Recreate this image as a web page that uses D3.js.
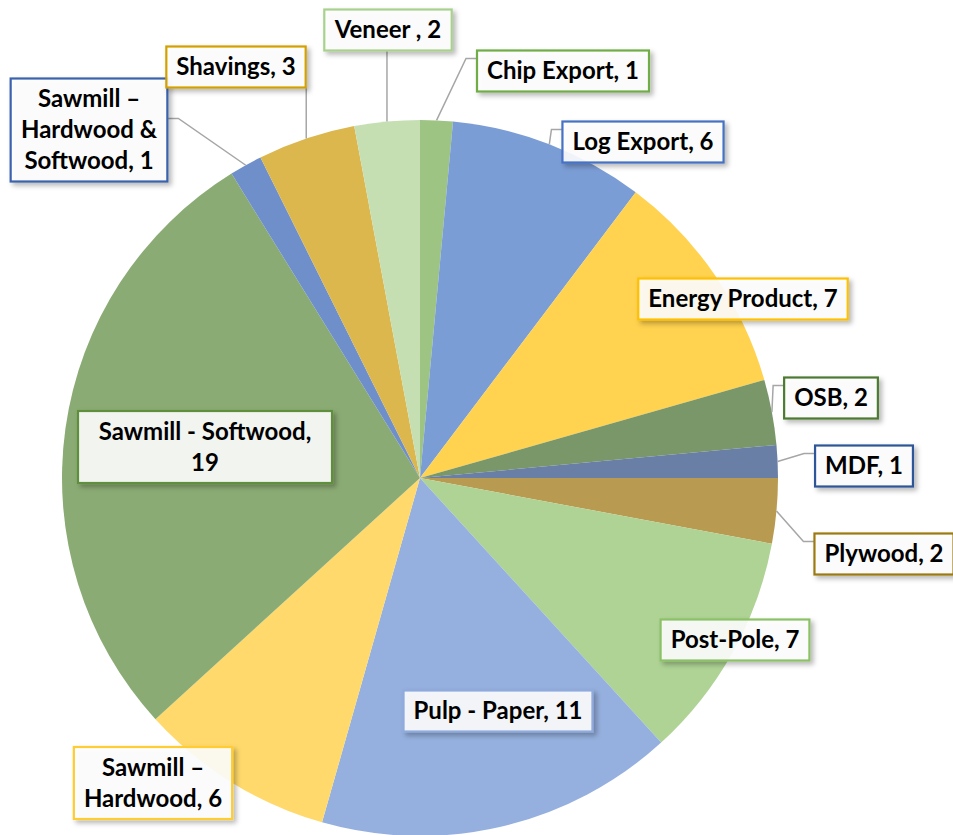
<!DOCTYPE html>
<html>
<head>
<meta charset="utf-8">
<script src="https://cdn.jsdelivr.net/npm/d3@7"></script>
<style>
  body { margin: 0; background: #fff; }
  svg { display: block; }
</style>
</head>
<body>
<svg width="953" height="835"></svg>
<script>
// data, clockwise from 12 o'clock
const categories = ['Chip Export', 'Log Export', 'Energy Product', 'OSB', 'MDF', 'Plywood',
  'Post-Pole', 'Pulp - Paper', 'Sawmill \u2013 Hardwood', 'Sawmill - Softwood',
  'Sawmill \u2013 Hardwood & Softwood', 'Shavings', 'Veneer '];
const values = [1, 6, 7, 2, 1, 2, 7, 11, 6, 19, 1, 3, 2];

const sliceColors = ['#9dc482', '#7b9dd6', '#ffd24f', '#7a976a', '#6a7fa6', '#b89b50',
  '#aed394', '#95b0de', '#ffd96b', '#8bab74', '#6f8fca', '#dbb74d', '#c5dfb3'];
const borderColors = ['#70ad47', '#4472c4', '#ffc000', '#4e7a30', '#2f5597', '#9c7a0f',
  '#8cc168', '#8faadc', '#ffcc33', '#5e8e3e', '#3a62ad', '#d4a000', '#a9d18e'];

// label box centres + wrapping (layout only)
const labelLayout = [
  { cx: 563, cy: 71, leader: true },
  { cx: 643, cy: 142, leader: true },
  { cx: 743, cy: 299 },
  { cx: 831, cy: 398, leader: true },
  { cx: 864, cy: 466, leader: true },
  { cx: 884, cy: 554, leader: true },
  { cx: 735, cy: 640 },
  { cx: 498, cy: 711 },
  { cx: 153, cy: 783, wrap: 11 },
  { cx: 205, cy: 447, wrap: 20, minW: 254 },
  { cx: 89, cy: 130, wrap: 11, leader: true, ay: 40 },
  { cx: 236, cy: 67, leader: true },
  { cx: 388, cy: 30, leader: true }
];

const svg = d3.select('svg');
const cx = 420, cy = 478, R = 358;
const fontSize = 24, lineH = 31;

const defs = svg.append('defs');
const f = defs.append('filter').attr('id', 'shadow')
  .attr('x', '-20%').attr('y', '-20%').attr('width', '150%').attr('height', '160%');
f.append('feDropShadow').attr('dx', 3).attr('dy', 3).attr('stdDeviation', 2.5)
  .attr('flood-color', '#000').attr('flood-opacity', 0.3);

const pie = d3.pie().sort(null).value(d => d)(values);
const arc = d3.arc().innerRadius(0).outerRadius(R);
const edge = d3.arc().innerRadius(R).outerRadius(R);

const g = svg.append('g').attr('transform', `translate(${cx},${cy})`);

g.selectAll('path.slice')
  .data(pie)
  .join('path')
  .attr('class', 'slice')
  .attr('d', arc)
  .attr('fill', (d, i) => sliceColors[i]);

function wrapText(text, maxChars) {
  if (!maxChars) return [text];
  const words = text.split(' ');
  const lines = [];
  let cur = '';
  words.forEach(w => {
    const t = cur ? cur + ' ' + w : w;
    if (t.length > maxChars && cur) { lines.push(cur); cur = w; }
    else cur = t;
  });
  lines.push(cur);
  return lines;
}

const leaders = svg.append('g');
const labels = svg.append('g');

pie.forEach((d, i) => {
  const lay = labelLayout[i];
  const text = `${categories[i]}, ${values[i]}`;
  const lines = wrapText(text, lay.wrap);

  const lg = labels.append('g');
  const rect = lg.append('rect');
  const t = lg.append('text')
    .attr('font-family', 'Lato, sans-serif')
    .attr('font-weight', 700)
    .attr('font-size', fontSize)
    .attr('fill', '#000')
    .attr('text-anchor', 'middle');
  lines.forEach((ln, k) => {
    t.append('tspan')
      .attr('x', lay.cx)
      .attr('y', lay.cy + (k - (lines.length - 1) / 2) * lineH)
      .attr('dy', '0.35em')
      .text(ln);
  });
  const bb = t.node().getBBox();
  const w = Math.max(bb.width + 20, lay.minW || 0);
  const h = lines.length * lineH + 10;
  const x0 = lay.cx - w / 2, y0 = lay.cy - h / 2;
  rect.attr('x', x0).attr('y', y0).attr('width', w).attr('height', h)
    .attr('fill', '#fff').attr('fill-opacity', 0.88)
    .attr('stroke', borderColors[i]).attr('stroke-width', 2.2)
    .attr('filter', 'url(#shadow)');

  if (lay.leader) {
    const [ex, ey] = edge.centroid(d);
    const px = cx + ex, py = cy + ey;
    let pts;
    if (py > y0 + h && px >= x0 - 4 && px <= x0 + w + 4) {
      pts = [[px, y0 + h], [px, py]];
    } else if (x0 > px) {
      const ay = y0 + (lay.ay || 8);
      pts = [[x0, ay], [x0 - 11, ay], [px, py]];
    } else {
      const ay = y0 + (lay.ay || 8);
      pts = [[x0 + w, ay], [x0 + w + 11, ay], [px, py]];
    }
    leaders.append('path')
      .attr('d', d3.line()(pts))
      .attr('fill', 'none')
      .attr('stroke', '#a6a6a6')
      .attr('stroke-width', 1.5);
  }
});
</script>
</body>
</html>
